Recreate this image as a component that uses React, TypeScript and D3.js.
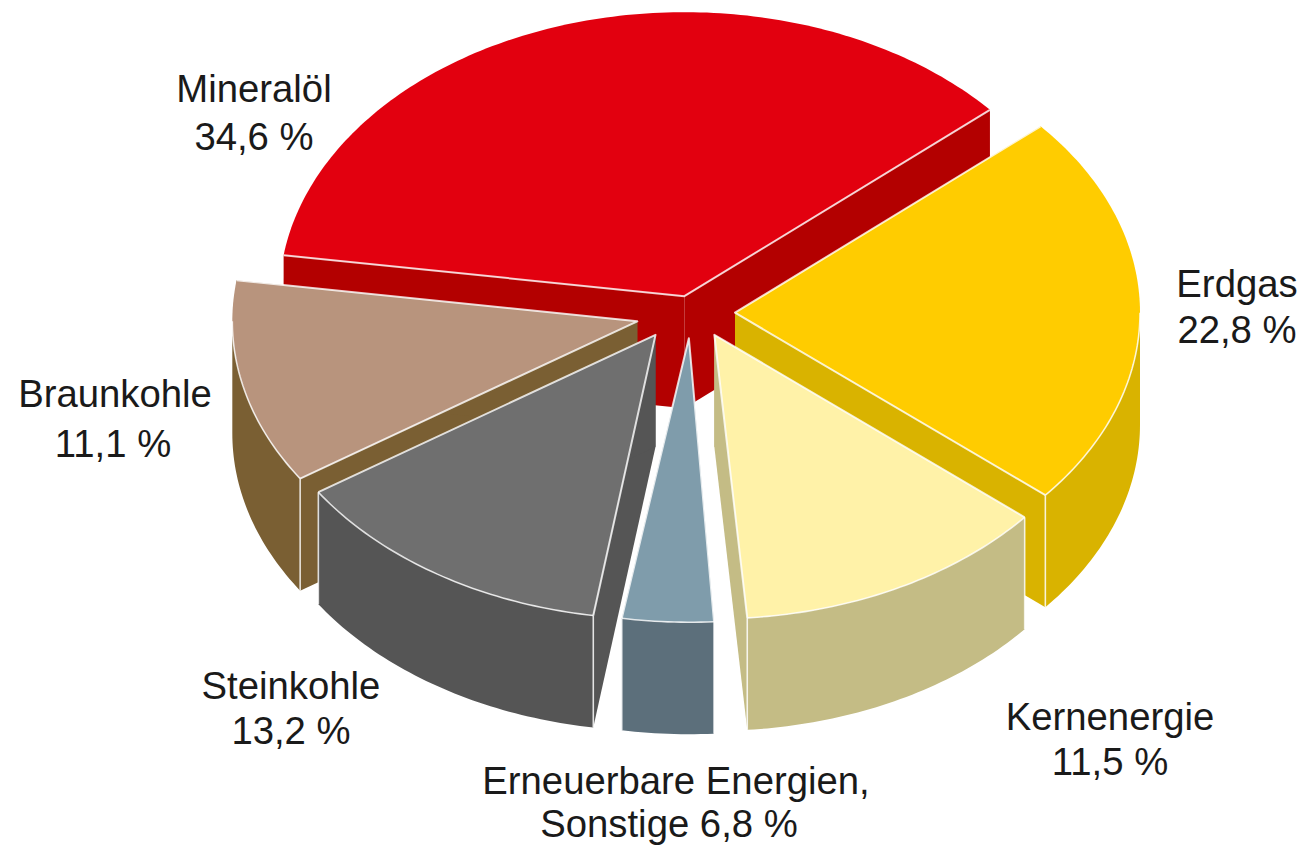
import React from "react";
import * as d3 from "d3";

// Labels as printed on the chart
const categories = ["Mineralöl", "Erdgas", "Kernenergie", "Erneuerbare Energien,", "Steinkohle", "Braunkohle"];
const printedShares = ["34,6 %", "22,8 %", "11,5 %", "6,8 %", "13,2 %", "11,1 %"];
// Angular share of each slice as actually drawn in the picture (its perspective differs from the printed %)
const drawnShares = [36.3, 22.5, 12.6, 3.75, 13.2, 11.65];
const topColors = ["#e2000f", "#ffcc00", "#fff2a8", "#7f9cab", "#6f6f6f", "#b8947d"];
const wallColors = ["#b30000", "#d9b300", "#c4bc85", "#5c6f7b", "#555555", "#7a5f33"];

const W = 1305, H = 846;
const CX = 690, CY = 313, RX = 405, RY = 284, DEPTH = 112;
const DEG = Math.PI / 180;
const START = -81.7 * DEG;
const explodeX = [20, 45, 53, 31, 64, 54];
const explodeY = [25, 44, 35, 36, 37, 54];
// small rotations of a slice's two edges, in degrees: the drawn pieces do not quite share one circle
const edgeNudge = [[0, 0], [0, 0], [0, 0], [1.1, 0.7], [0, 0], [0, 0]];
const paintOrder = [0, 1, 5, 2, 4, 3];

const labelLayout = [
  { x: [254, 254], y: [102, 150] },
  { x: [1237, 1237], y: [297, 343] },
  { x: [1110, 1110], y: [730, 775] },
  { x: [676, 669], y: [794, 837] },
  { x: [291, 291], y: [699, 744] },
  { x: [115, 113], y: [407, 457] },
];

const sx = d3.scaleLinear().domain([-1, 1]).range([-RX, RX]);
const sy = d3.scaleLinear().domain([-1, 1]).range([-RY, RY]);
const pt = (a: number): [number, number] => [sx(Math.sin(a)), sy(-Math.cos(a))];
const line = d3.line<[number, number]>();

const arcPts = (a0: number, a1: number, ox: number, oy: number): [number, number][] => {
  const n = Math.max(2, Math.ceil(Math.abs(a1 - a0) * 60));
  return d3.range(n + 1).map((i) => {
    const [x, y] = pt(a0 + ((a1 - a0) * i) / n);
    return [x + ox, y + oy] as [number, number];
  });
};

export default function App() {
  const arcs = d3
    .pie<number>()
    .sort(null)
    .startAngle(START)
    .endAngle(START + 2 * Math.PI)
    .value((d) => d)(drawnShares);

  const slices = arcs.map((arc, i) => {
    const mid = (arc.startAngle + arc.endAngle) / 2;
    const [mx, my] = pt(mid);
    const ax = CX + (mx / RX) * explodeX[i];
    const ay = CY + (my / RX) * explodeY[i];
    const a0 = arc.startAngle + edgeNudge[i][0] * DEG;
    const a1 = arc.endAngle + edgeNudge[i][1] * DEG;
    const rim = arcPts(a0, a1, ax, ay);
    const first = rim[0];
    const last = rim[rim.length - 1];
    const apex: [number, number] = [ax, ay];
    const down = (p: [number, number]): [number, number] => [p[0], p[1] + DEPTH];
    const wallA = Math.max(a0, Math.PI / 2);
    const wallB = Math.min(a1, (3 * Math.PI) / 2);
    const frontRim = wallB > wallA ? arcPts(wallA, wallB, ax, ay) : null;
    const outer = frontRim ? [...frontRim, ...frontRim.slice().reverse().map(down)] : null;
    return {
      apex, first, last, outer, frontRim, down,
      top: [apex, ...rim],
      wallStart: [apex, first, down(first), down(apex)] as [number, number][],
      wallEnd: [apex, last, down(last), down(apex)] as [number, number][],
    };
  });

  return (
    <svg width={W} height={H} style={{ position: "absolute", left: 0, top: 0, background: "#fff" }}>
      {paintOrder.map((k) => {
        const s = slices[k];
        const wall = wallColors[k];
        return (
          <g key={k}>
            <path d={line(s.wallStart) + "Z"} fill={wall} />
            <path d={line(s.wallEnd) + "Z"} fill={wall} />
            {s.outer && <path d={line(s.outer) + "Z"} fill={wall} />}
            <path d={line(s.top) + "Z"} fill={topColors[k]} />
            <path d={line([s.first, s.apex, s.last])!} fill="none" stroke="#fff" strokeOpacity={0.8} strokeWidth={2} strokeLinejoin="round" />
            {s.frontRim && <path d={line(s.frontRim)!} fill="none" stroke="#fff" strokeOpacity={0.8} strokeWidth={1.6} />}
            {[s.first, s.last].map((p, j) =>
              p[1] > s.apex[1] ? (
                <path key={j} d={line([p, s.down(p)])!} stroke="#fff" strokeOpacity={0.8} strokeWidth={1.6} />
              ) : null
            )}
          </g>
        );
      })}
      <g fontFamily="'Liberation Sans', Arial, sans-serif" fontSize={38.3} fill="#1a1a1a" textAnchor="middle">
        {labelLayout.map((l, i) => (
          <g key={i}>
            <text x={l.x[0]} y={l.y[0]}>{categories[i]}</text>
            <text x={l.x[1]} y={l.y[1]}>{i === 3 ? "Sonstige " + printedShares[i] : printedShares[i]}</text>
          </g>
        ))}
      </g>
    </svg>
  );
}
